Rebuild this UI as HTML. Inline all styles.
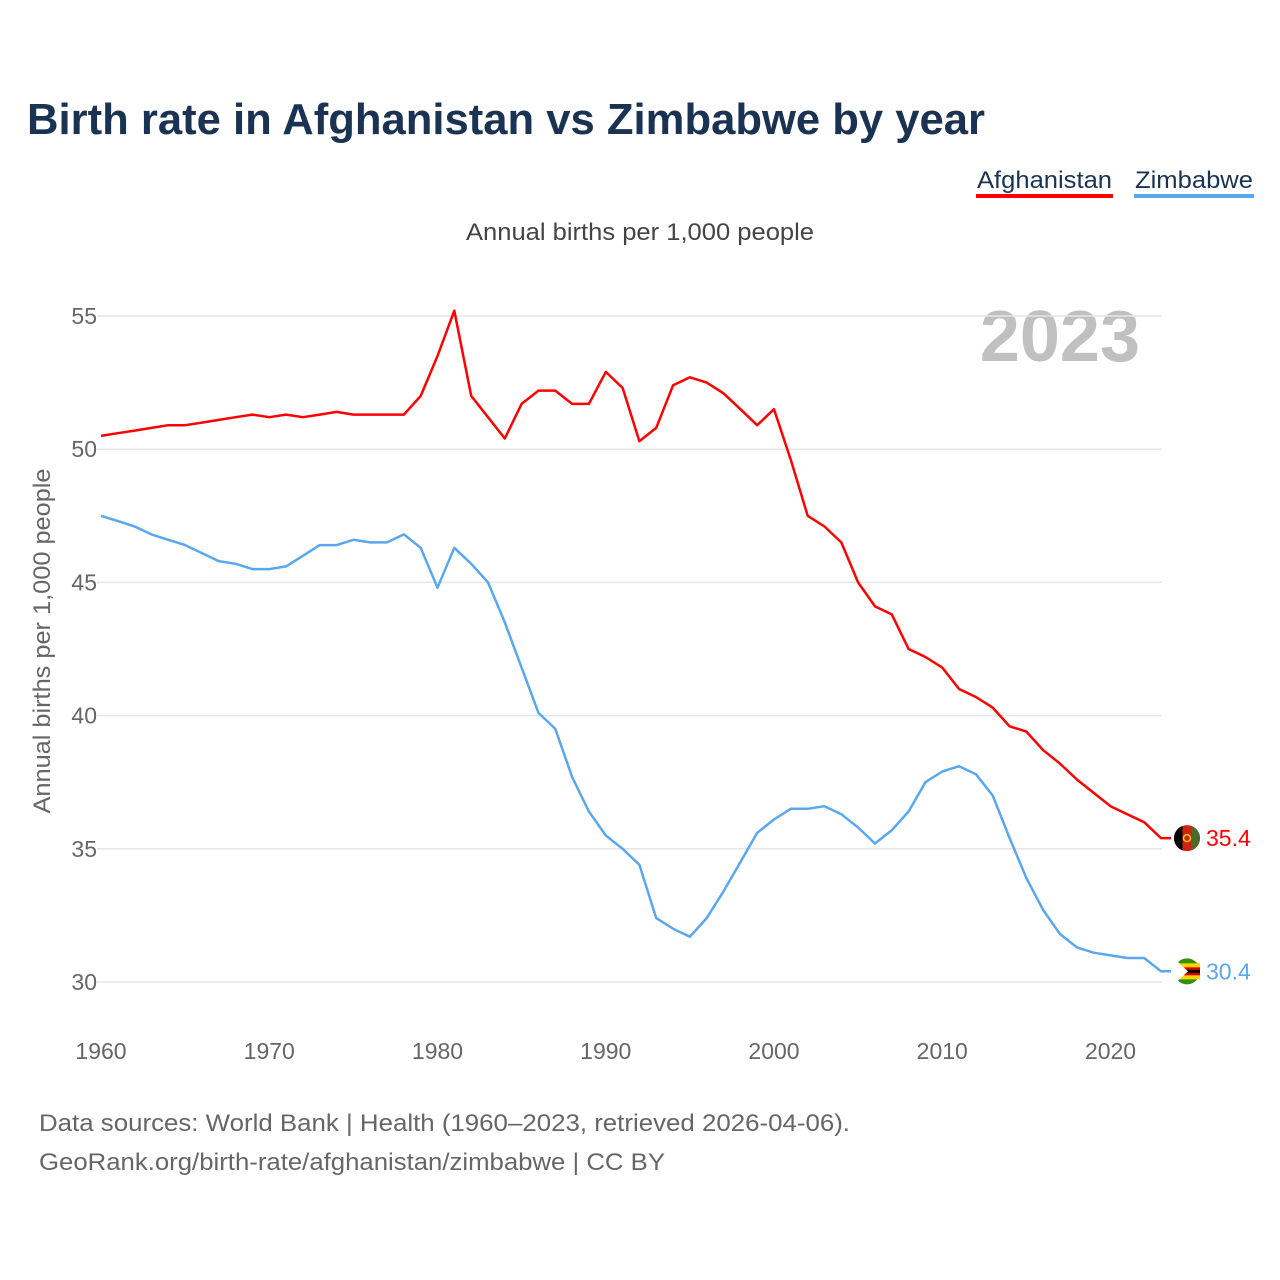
<!DOCTYPE html>
<html><head><meta charset="utf-8"><style>
body{margin:0;background:#fff;font-family:"Liberation Sans",sans-serif;}
#wrap{position:relative;width:1280px;height:1280px;overflow:hidden;}
</style></head><body>
<div id="wrap">
<svg id="chart" width="1280" height="1280" xmlns="http://www.w3.org/2000/svg"></svg>
</div>
<script>
const years = []; for (let y = 1960; y <= 2023; y++) years.push(y);
const afghanistan = [50.5,50.6,50.7,50.8,50.9,50.9,51.0,51.1,51.2,51.3,51.2,51.3,51.2,51.3,51.4,51.3,51.3,51.3,51.3,52.0,53.5,55.2,52.0,51.2,50.4,51.7,52.2,52.2,51.7,51.7,52.9,52.3,50.3,50.8,52.4,52.7,52.5,52.1,51.5,50.9,51.5,49.6,47.5,47.1,46.5,45.0,44.1,43.8,42.5,42.2,41.8,41.0,40.7,40.3,39.6,39.4,38.7,38.2,37.6,37.1,36.6,36.3,36.0,35.4];
const zimbabwe = [47.5,47.3,47.1,46.8,46.6,46.4,46.1,45.8,45.7,45.5,45.5,45.6,46.0,46.4,46.4,46.6,46.5,46.5,46.8,46.3,44.8,46.3,45.7,45.0,43.5,41.8,40.1,39.5,37.7,36.4,35.5,35.0,34.4,32.4,32.0,31.7,32.4,33.4,34.5,35.6,36.1,36.5,36.5,36.6,36.3,35.8,35.2,35.7,36.4,37.5,37.9,38.1,37.8,37.0,35.4,33.9,32.7,31.8,31.3,31.1,31.0,30.9,30.9,30.4];
const yTicks = [30,35,40,45,50,55];
const xTicks = [1960,1970,1980,1990,2000,2010,2020];

const svg = document.getElementById('chart');
const NS = 'http://www.w3.org/2000/svg';
function xs(y){ return 101 + (y-1960)*(1161-101)/63; }
function ys(v){ return 982 - (v-30)*(982-316)/25; }
function mk(tag, attrs, text){
  const e = document.createElementNS(NS, tag);
  for (const k in attrs) e.setAttribute(k, attrs[k]);
  if (text !== undefined) e.textContent = text;
  svg.appendChild(e); return e;
}
let t;
t = mk('text',{x:27,y:134,'font-size':44,'font-weight':'bold',fill:'#1b3353',textLength:958,lengthAdjust:'spacingAndGlyphs'},'Birth rate in Afghanistan vs Zimbabwe by year');
 
t = mk('text',{x:977,y:188,'font-size':24,fill:'#1b3353',textLength:135,lengthAdjust:'spacingAndGlyphs'},'Afghanistan');
 
t = mk('rect',{x:976,y:194,width:137,height:4,fill:'#ff0000'});
 
t = mk('text',{x:1135,y:188,'font-size':24,fill:'#1b3353',textLength:118,lengthAdjust:'spacingAndGlyphs'},'Zimbabwe');
 
t = mk('rect',{x:1134,y:194,width:120,height:4,fill:'#5ba7ee'});
 
t = mk('text',{x:466,y:240,'font-size':24,fill:'#444',textLength:348,lengthAdjust:'spacingAndGlyphs'},'Annual births per 1,000 people');
 
t = mk('text',{x:1140,y:361,'font-size':72,'font-weight':'bold',fill:'#c0c0c0','text-anchor':'end'},'2023');
 
yTicks.forEach(v=>{
  t = mk('line',{x1:97,x2:1162,y1:ys(v),y2:ys(v),stroke:'#e6e6e6','stroke-width':1.5});
   
  t = mk('text',{x:97,y:ys(v)+8,'font-size':23,fill:'#666','text-anchor':'end'},String(v));
   
});
xTicks.forEach(y=>{
  t = mk('text',{x:xs(y),y:1059,'font-size':23,fill:'#666','text-anchor':'middle'},String(y));
   
});
t = mk('text',{x:0,y:0,'font-size':24,fill:'#666','text-anchor':'middle',transform:'translate(50,641) rotate(-90)',textLength:345,lengthAdjust:'spacingAndGlyphs'},'Annual births per 1,000 people');
 
function pts(arr){ return arr.map((v,i)=>xs(years[i]).toFixed(1)+','+ys(v).toFixed(1)).join(' ') + ' ' + (xs(2023)+10) + ',' + ys(arr[arr.length-1]).toFixed(1); }
t = mk('polyline',{points:pts(zimbabwe),fill:'none',stroke:'#5ba7ee','stroke-width':2.5,'stroke-linejoin':'round'});
 
t = mk('polyline',{points:pts(afghanistan),fill:'none',stroke:'#ff0000','stroke-width':2.5,'stroke-linejoin':'round'});
 
const la = afghanistan[afghanistan.length-1], lz = zimbabwe[zimbabwe.length-1];
const fx = 1187;
let cy = ys(la);
t = mk('circle',{cx:fx,cy:cy,r:13,fill:'#d32011'});
 
mk('path',{d:`M${fx-4.5},${cy-12.2} A13,13 0 0,0 ${fx-4.5},${cy+12.2} Z`,fill:'#000'});
mk('path',{d:`M${fx+4.5},${cy-12.2} A13,13 0 0,1 ${fx+4.5},${cy+12.2} Z`,fill:'#4a6b2f'});
mk('circle',{cx:fx,cy:cy,r:3.5,fill:'none',stroke:'#f5c518','stroke-width':1.5});
t = mk('text',{x:1206,y:cy+8,'font-size':23,fill:'#ff0000'},la.toFixed(1));
 
cy = ys(lz);
t = mk('circle',{cx:fx,cy:cy,r:13,fill:'#319208'});
 
mk('rect',{x:fx-13,y:cy-8,width:26,height:16,fill:'#ffd200'});
mk('rect',{x:fx-13,y:cy-4,width:26,height:8,fill:'#d40000'});
mk('rect',{x:fx-13,y:cy-1.5,width:26,height:3,fill:'#000'});
mk('path',{d:`M${fx-13},${cy-13} L${fx+1},${cy} L${fx-13},${cy+13} Z`,fill:'#fff'});
t = mk('text',{x:1206,y:cy+8,'font-size':23,fill:'#5ba7ee'},lz.toFixed(1));
 
t = mk('text',{x:39,y:1131,'font-size':24,fill:'#666',textLength:811,lengthAdjust:'spacingAndGlyphs'},'Data sources: World Bank | Health (1960–2023, retrieved 2026-04-06).');
 
t = mk('text',{x:39,y:1170,'font-size':24,fill:'#666',textLength:626,lengthAdjust:'spacingAndGlyphs'},'GeoRank.org/birth-rate/afghanistan/zimbabwe | CC BY');
 
</script>
</body></html>
